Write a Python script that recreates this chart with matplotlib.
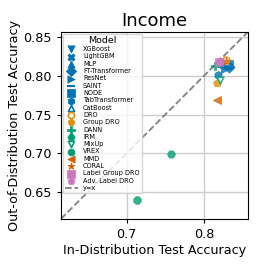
import numpy as np
import matplotlib
matplotlib.use('Agg')
import matplotlib.pyplot as plt

models = ['XGBoost', 'LightGBM', 'MLP', 'FT-Transformer', 'ResNet', 'SAINT', 'NODE',
          'TabTransformer', 'CatBoost', 'DRO', 'Group DRO', 'DANN', 'IRM', 'MixUp',
          'VREX', 'MMD', 'CORAL', 'Label Group DRO', 'Adv. Label DRO']
id_acc = [0.829, 0.831, 0.826, 0.833, 0.827, 0.824, 0.832, 0.8185, 0.830,
          0.829, 0.817, 0.8142, 0.757, 0.8215, 0.714, 0.8165, 0.828, 0.8194, 0.8205]
ood_acc = [0.815, 0.813, 0.816, 0.811, 0.809, 0.812, 0.815, 0.8015, 0.818,
           0.8205, 0.7905, 0.8125, 0.699, 0.7945, 0.640, 0.769, 0.819, 0.8175, 0.8195]

blue, orange, green, red, pink = '#0173b2', '#de8f05', '#029e73', '#d55e00', '#cc78bc'
colors = [blue] * 9 + [orange, orange, green, green, green, green, red, red, pink, pink]
markers = ['v', 'X', '^', 'D', '>', '_', 's', 'h', '^', 'o', 'p', 'P', 'H', 'v',
           '8', '<', '*', 's', 'p']
hollow = ['CatBoost', 'DRO', 'MixUp']

fig = plt.figure(figsize=(2.66, 2.66), dpi=100)
ax = fig.add_axes([0.229, 0.177, 0.703, 0.703])

lims = [0.615, 0.857]
for m, x, y, c, mk in zip(models, id_acc, ood_acc, colors, markers):
    if m in hollow:
        ax.scatter(x, y, marker=mk, s=24, facecolors='white', edgecolors=c,
                   linewidths=1.2, alpha=0.8, label=m, zorder=3)
    else:
        ax.scatter(x, y, marker=mk, s=34, color=c, alpha=0.8, label=m,
                   linewidths=0.5 if mk != '_' else 1.5, zorder=3)

ax.plot(lims, lims, '--', color='gray', linewidth=1.3, label='y=x', zorder=2)
ax.set_xlim(lims)
ax.set_ylim(lims)
ax.set_xticks([0.7, 0.8])
ax.set_yticks([0.65, 0.70, 0.75, 0.80, 0.85])
ax.grid(color='#cccccc', linewidth=1)
ax.set_axisbelow(True)
ax.tick_params(labelsize=9.2, length=3)
ax.set_xlabel('In-Distribution Test Accuracy', fontsize=9.2, labelpad=2)
ax.set_ylabel('Out-of-Distribution Test Accuracy', fontsize=9.2, labelpad=2)
ax.set_title('Income', fontsize=13, pad=4)

leg = ax.legend(title='Model', loc='upper left', fontsize=4.7, title_fontsize=6.8,
                borderaxespad=0.25, labelspacing=0.2, handletextpad=0.8,
                borderpad=0.35, markerscale=0.9, framealpha=0.8)
for h in leg.legend_handles:
    h.set_alpha(1)

fig.savefig('out.png', dpi=100)
